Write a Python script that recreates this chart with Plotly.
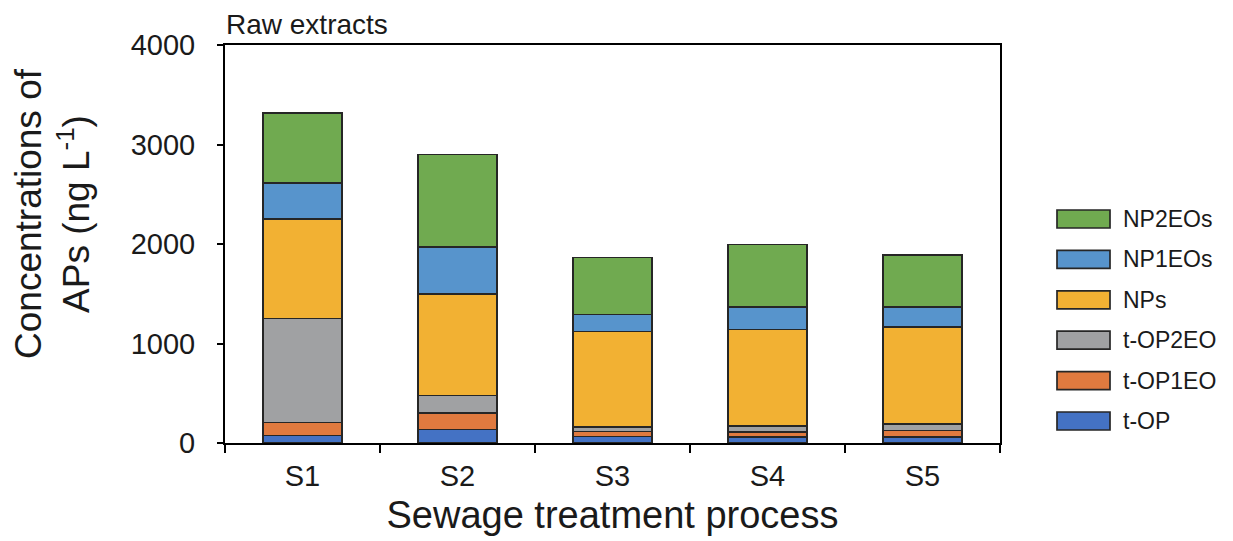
import plotly.graph_objects as go

# Sewage treatment stages
stages = ["S1", "S2", "S3", "S4", "S5"]

# Concentrations (ng/L) per compound, stacked bottom to top
t_op = [75, 136, 65, 58, 60]
t_op1eo = [130, 168, 51, 55, 66]
t_op2eo = [1045, 174, 43, 55, 65]
nps = [1000, 1023, 963, 974, 975]
np1eos = [365, 469, 171, 224, 201]
np2eos = [700, 929, 570, 628, 523]

series_names = ["t-OP", "t-OP1EO", "t-OP2EO", "NPs", "NP1EOs", "NP2EOs"]
series_values = [t_op, t_op1eo, t_op2eo, nps, np1eos, np2eos]
series_colors = ["#4472C4", "#E07A3F", "#A0A1A3", "#F2B133", "#5794CC", "#70AA50"]

FONT = "Liberation Sans, Arial, sans-serif"
OUTLINE = "#262626"

fig = go.Figure()
for name, vals, color in zip(series_names, series_values, series_colors):
    fig.add_trace(go.Bar(
        x=stages, y=vals, name=name,
        marker=dict(color=color, line=dict(color=OUTLINE, width=1.7)),
        showlegend=False,
    ))

# Plot-area geometry in pixels (used to place the side legend and labels)
W, H = 1233, 541
L, R, T, B = 225, 233, 45, 98
plot_w = W - L - R
plot_h = H - T - B

def px_x(x):
    return (x - L) / plot_w

def px_y(y):
    return (H - B - y) / plot_h

shapes = []
annotations = []

# Legend: top entry is the last stacked series
legend_top = 219
legend_step = 40.4
for i, (name, color) in enumerate(zip(series_names[::-1], series_colors[::-1])):
    cy = legend_top + legend_step * i
    shapes.append(dict(
        type="rect", xref="paper", yref="paper",
        x0=px_x(1057), x1=px_x(1110), y0=px_y(cy + 9), y1=px_y(cy - 9),
        fillcolor=color, line=dict(color=OUTLINE, width=1.7),
    ))
    annotations.append(dict(
        text=name, xref="paper", yref="paper",
        x=px_x(1121), y=px_y(cy), xanchor="left", yanchor="middle",
        showarrow=False, font=dict(family=FONT, size=23, color="#1a1a1a"),
    ))

# Panel label
annotations.append(dict(
    text="Raw extracts", xref="paper", yref="paper",
    x=px_x(224), y=px_y(24), xanchor="left", yanchor="middle",
    showarrow=False, font=dict(family=FONT, size=28, color="#1a1a1a"),
))

# Y-axis title (two lines, rotated)
annotations.append(dict(
    text="Concentrations of<br>APs (ng L<sup>-1</sup>)", xref="paper", yref="paper",
    x=px_x(52), y=px_y(214), xanchor="center", yanchor="middle",
    textangle=-90, showarrow=False,
    font=dict(family=FONT, size=37, color="#1a1a1a"),
))

fig.update_layout(
    barmode="stack",
    bargap=0.49,
    width=W, height=H,
    margin=dict(l=L, r=R, t=T, b=B),
    paper_bgcolor="white",
    plot_bgcolor="white",
    font=dict(family=FONT, color="#1a1a1a"),
    shapes=shapes,
    annotations=annotations,
    xaxis=dict(
        title=dict(text="Sewage treatment process", font=dict(size=38), standoff=11),
        tickfont=dict(size=29),
        showline=True, linecolor="black", linewidth=2, mirror=True,
        ticks="outside", ticklen=8, tickwidth=1.8, tickcolor="black",
        tickson="boundaries",
        showgrid=False, zeroline=False,
        ticklabelstandoff=6,
    ),
    yaxis=dict(
        range=[0, 4000],
        tickvals=[0, 1000, 2000, 3000, 4000],
        tickfont=dict(size=29),
        showline=True, linecolor="black", linewidth=2, mirror=True,
        ticks="outside", ticklen=6, tickwidth=1.8, tickcolor="black",
        showgrid=False, zeroline=False,
        ticklabelstandoff=16,
    ),
)

fig.write_html("out.html")
